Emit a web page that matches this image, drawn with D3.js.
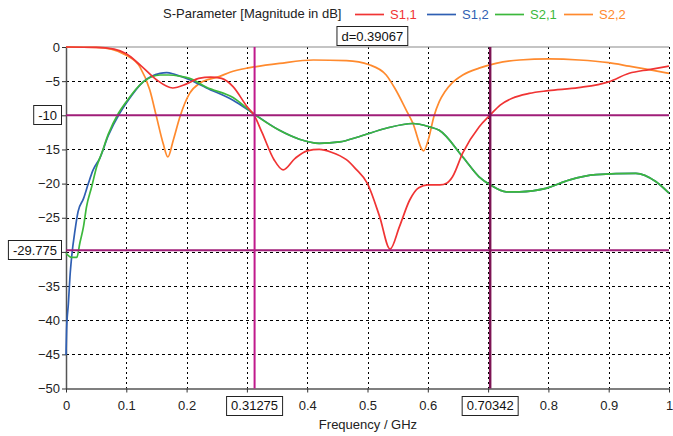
<!DOCTYPE html>
<html>
<head>
<meta charset="utf-8">
<script src="https://cdn.jsdelivr.net/npm/d3@7"></script>
<style>
  body { margin: 0; background: #fff; }
  svg { display: block; font-family: "Liberation Sans", Arial, sans-serif; }
</style>
</head>
<body>
<div id="chart"></div>
<script>
// S-parameter traces (frequency in GHz, magnitude in dB)
const s11Freq = [0, 0.05, 0.08, 0.1, 0.125, 0.15, 0.177, 0.2, 0.22, 0.24, 0.258, 0.277, 0.3, 0.312, 0.325, 0.345, 0.36, 0.38, 0.4, 0.42, 0.44, 0.465, 0.48, 0.5, 0.52, 0.5375, 0.553, 0.57, 0.585, 0.6, 0.62, 0.632, 0.641, 0.658, 0.685, 0.703, 0.72, 0.74, 0.768, 0.8, 0.85, 0.9, 0.934, 0.967, 1.0];
const s11 = [0, -0.05, -0.3, -1.0, -2.8, -4.8, -6.0, -5.4, -4.6, -4.4, -4.6, -5.8, -8.7, -10.0, -12.5, -16.5, -18.0, -16.3, -15.2, -15.0, -15.4, -16.5, -17.8, -20.0, -24.8, -29.6, -26.3, -22.4, -20.6, -20.2, -20.2, -19.9, -19.0, -15.5, -11.7, -10.0, -8.5, -7.5, -6.8, -6.4, -5.95, -5.1, -3.85, -3.3, -2.8];

const s12Freq = [0, 0.001, 0.004, 0.0066, 0.0094, 0.015, 0.02, 0.029, 0.037, 0.045, 0.056, 0.07, 0.089, 0.1, 0.128, 0.156, 0.167, 0.18, 0.205, 0.233, 0.277, 0.31, 0.354, 0.387, 0.42, 0.454, 0.487, 0.531, 0.575, 0.603, 0.619, 0.658, 0.685, 0.704, 0.73, 0.752, 0.796, 0.834, 0.879, 0.945, 0.978, 1.0];
const s12 = [-45.1, -41.4, -37.5, -33.6, -30.7, -26.8, -24.1, -22.2, -20.0, -18.0, -16.3, -13.0, -9.7, -8.2, -5.1, -3.85, -3.75, -4.0, -4.8, -6.0, -7.8, -9.7, -12.2, -13.5, -14.1, -13.9, -13.1, -11.9, -11.2, -11.7, -12.2, -16.1, -19.0, -20.2, -21.2, -21.2, -20.7, -19.5, -18.7, -18.5, -19.7, -21.4];

const s21Freq = [0, 0.0094, 0.018, 0.023, 0.029, 0.034, 0.0425, 0.051, 0.059, 0.07, 0.087, 0.1, 0.128, 0.156, 0.17, 0.19, 0.205, 0.233, 0.277, 0.31, 0.354, 0.387, 0.42, 0.454, 0.487, 0.531, 0.575, 0.603, 0.619, 0.658, 0.685, 0.704, 0.73, 0.752, 0.796, 0.834, 0.879, 0.945, 0.978, 1.0];
const s21 = [-30.2, -30.8, -30.8, -28.7, -26.3, -23.4, -20.5, -17.5, -15.6, -12.8, -9.7, -8.0, -5.1, -4.1, -4.1, -4.3, -4.6, -5.9, -7.4, -9.7, -12.2, -13.5, -14.1, -13.9, -13.1, -11.9, -11.2, -11.7, -12.2, -16.1, -19.0, -20.2, -21.2, -21.2, -20.7, -19.5, -18.7, -18.5, -19.7, -21.4];

const s22Freq = [0, 0.05, 0.075, 0.1, 0.1225, 0.139, 0.15, 0.161, 0.169, 0.178, 0.189, 0.205, 0.222, 0.255, 0.272, 0.3, 0.313, 0.354, 0.41, 0.465, 0.503, 0.531, 0.547, 0.564, 0.575, 0.593, 0.602, 0.61, 0.619, 0.628, 0.64, 0.658, 0.685, 0.713, 0.752, 0.801, 0.851, 0.9, 0.934, 0.967, 1.0];
const s22 = [0, -0.05, -0.3, -1.2, -2.9, -6.3, -10.2, -14.1, -16.1, -13.6, -10.2, -6.8, -5.3, -4.3, -3.7, -3.1, -2.9, -2.4, -1.9, -2.0, -2.6, -4.1, -6.3, -9.2, -11.1, -15.2, -13.2, -10.2, -8.0, -6.6, -5.3, -4.1, -3.1, -2.4, -1.9, -1.75, -1.9, -2.3, -2.8, -3.3, -3.85];

const seriesNames = ["S1,1", "S1,2", "S2,1", "S2,2"];
const seriesColors = ["#f03434", "#2f5fb3", "#3cb83c", "#ff8a2e"];

const xTicks = [0, 0.1, 0.2, 0.3, 0.4, 0.5, 0.6, 0.7, 0.8, 0.9, 1];
const yTicks = [0, -5, -10, -15, -20, -25, -30, -35, -40, -45, -50];

// marker positions
const markerX = [0.31275, 0.70342];
const markerY = [-10, -29.775];
const markerDelta = "d=0.39067";

const width = 673;
const height = 436;
const margin = { top: 47, right: 3, bottom: 47.5, left: 66 };
const FONT = "13px";

const svg = d3
  .select("#chart")
  .append("svg")
  .attr("width", width)
  .attr("height", height);

svg.append("rect").attr("width", width).attr("height", height).attr("fill", "#fff");

const x = d3.scaleLinear().domain([0, 1]).range([margin.left, width - margin.right - 1]);
const y = d3.scaleLinear().domain([-50, 0]).range([height - margin.bottom, margin.top]);

// Grid
const grid = svg.append("g");
grid
  .selectAll("line.vg")
  .data(xTicks.slice(1))
  .join("line")
  .attr("x1", (d) => Math.round(x(d)) + 0.5)
  .attr("x2", (d) => Math.round(x(d)) + 0.5)
  .attr("y1", y(0))
  .attr("y2", y(-50))
  .attr("stroke", "#000")
  .attr("stroke-width", 1)
  .attr("stroke-dasharray", "2,3");

grid
  .selectAll("line.hg")
  .data(yTicks.filter((d) => d !== 0 && d !== -50))
  .join("line")
  .attr("x1", x(0))
  .attr("x2", x(1))
  .attr("y1", (d) => Math.round(y(d)) + 0.5)
  .attr("y2", (d) => Math.round(y(d)) + 0.5)
  .attr("stroke", "#000")
  .attr("stroke-width", 1)
  .attr("stroke-dasharray", "3,3");

// top border
svg
  .append("line")
  .attr("x1", x(0))
  .attr("x2", x(1))
  .attr("y1", y(0))
  .attr("y2", y(0))
  .attr("stroke", "#8a8a8a")
  .attr("stroke-width", 1.2);

// Axes
const yAxis = d3
  .axisLeft(y)
  .tickValues(yTicks)
  .tickSizeInner(4)
  .tickSizeOuter(0)
  .tickPadding(2)
  .tickFormat((d) => (markerY.some((m) => Math.abs(m - d) < 0.5) ? "" : d3.format("d")(d)));

const xAxis = d3
  .axisBottom(x)
  .tickValues(xTicks)
  .tickSizeInner(4)
  .tickSizeOuter(0)
  .tickPadding(8)
  .tickFormat((d) => (markerX.some((m) => Math.abs(m - d) < 0.02) ? "" : d3.format("")(d)));

const gy = svg.append("g").attr("transform", `translate(${x(0)},0)`).call(yAxis);
const gx = svg.append("g").attr("transform", `translate(0,${y(-50)})`).call(xAxis);

[gy, gx].forEach((g) => {
  g.select(".domain").attr("stroke", "#555").attr("stroke-width", 1.5);
  g.selectAll(".tick line").attr("stroke", "#333");
  g.selectAll(".tick text")
    .attr("fill", "#222")
    .style("font-size", FONT)
    .style("font-family", '"Liberation Sans", Arial, sans-serif');
});

// Curves
const line = d3
  .line()
  .x((d) => x(d[0]))
  .y((d) => y(d[1]))
  .curve(d3.curveMonotoneX);

const seriesData = [
  d3.zip(s11Freq, s11),
  d3.zip(s12Freq, s12),
  d3.zip(s21Freq, s21),
  d3.zip(s22Freq, s22),
];

// draw order: orange under, then blue, green, red on top
const drawOrder = [3, 1, 2, 0];
svg
  .append("g")
  .selectAll("path")
  .data(drawOrder)
  .join("path")
  .attr("d", (i) => line(seriesData[i]))
  .attr("fill", "none")
  .attr("stroke", (i) => seriesColors[i])
  .attr("stroke-width", 1.7)
  .attr("stroke-linejoin", "round");

// Marker lines
const markers = svg.append("g");
markers
  .selectAll("line.mh")
  .data(markerY)
  .join("line")
  .attr("x1", x(0))
  .attr("x2", x(1))
  .attr("y1", (d) => y(d))
  .attr("y2", (d) => y(d))
  .attr("stroke", "#a01e78")
  .attr("stroke-width", 2);

markers
  .selectAll("line.mv")
  .data(markerX)
  .join("line")
  .attr("x1", (d) => x(d))
  .attr("x2", (d) => x(d))
  .attr("y1", y(0))
  .attr("y2", y(-50))
  .attr("stroke", (d, i) => (i === 0 ? "#c01a8c" : "#7d1454"))
  .attr("stroke-width", (d, i) => (i === 0 ? 2 : 2.5));

// boxed labels
function boxLabel(text, cx, cy, anchor) {
  const g = svg.append("g");
  const t = g
    .append("text")
    .attr("x", cx)
    .attr("y", cy)
    .attr("dy", "0.35em")
    .attr("text-anchor", anchor)
    .style("font-size", FONT)
    .attr("fill", "#111")
    .text(text);
  const b = t.node().getBBox();
  g.insert("rect", "text")
    .attr("x", b.x - 4.5)
    .attr("y", Math.round(cy) - 9.5)
    .attr("width", b.width + 9)
    .attr("height", 19)
    .attr("fill", "#fff")
    .attr("stroke", "#222")
    .attr("stroke-width", 1);
}

boxLabel("-10", x(0) - 9, y(markerY[0]), "end");
boxLabel("-29.775", x(0) - 9, y(markerY[1]), "end");
boxLabel("0.31275", x(markerX[0]), y(-50) + 17, "middle");
boxLabel("0.70342", x(markerX[1]), y(-50) + 17, "middle");
boxLabel(markerDelta, (x(markerX[0]) + x(markerX[1])) / 2, 36, "middle");

// Title and legend
svg
  .append("text")
  .attr("x", 163)
  .attr("y", 18)
  .style("font-size", FONT)
  .attr("fill", "#222")
  .text("S-Parameter [Magnitude in dB]");

const legendX = [355, 427, 495, 564];
const legend = svg
  .append("g")
  .selectAll("g")
  .data(seriesNames)
  .join("g")
  .attr("transform", (d, i) => `translate(${legendX[i]},14.5)`);

legend
  .append("line")
  .attr("x1", 0)
  .attr("x2", 29)
  .attr("stroke", (d, i) => seriesColors[i])
  .attr("stroke-width", 1.7);

legend
  .append("text")
  .attr("x", 35)
  .attr("dy", "0.35em")
  .style("font-size", FONT)
  .attr("fill", (d, i) => seriesColors[i])
  .text((d) => d);

// Axis title
svg
  .append("text")
  .attr("x", 368)
  .attr("y", 429)
  .attr("text-anchor", "middle")
  .style("font-size", FONT)
  .attr("fill", "#222")
  .text("Frequency / GHz");
</script>
</body>
</html>
